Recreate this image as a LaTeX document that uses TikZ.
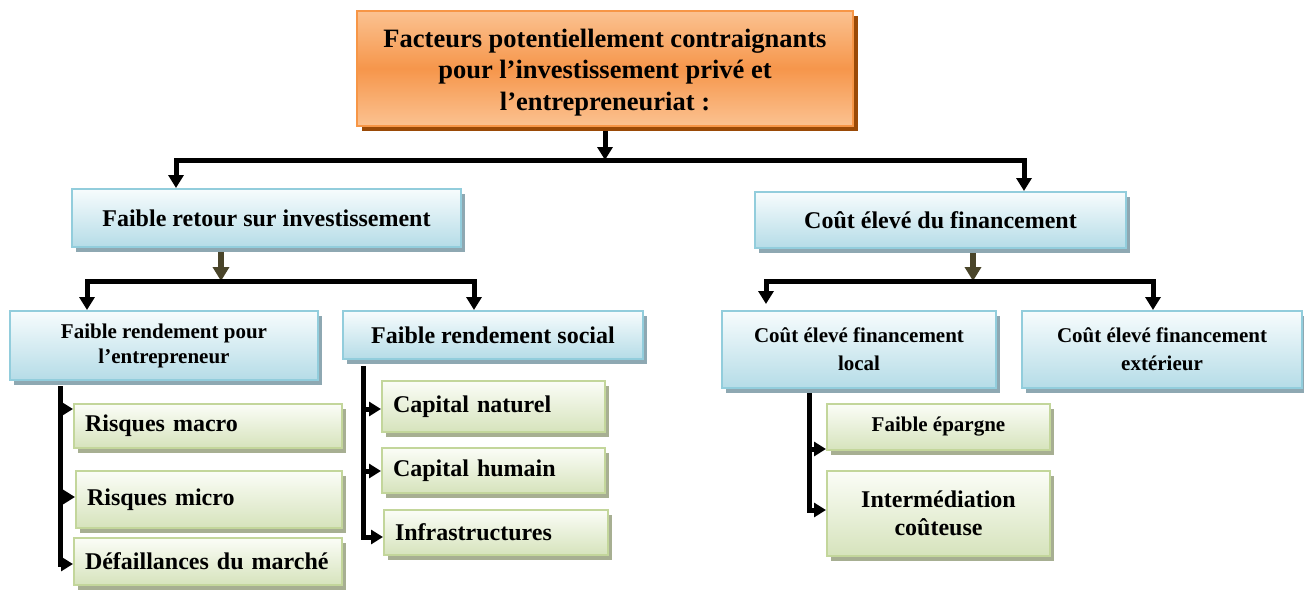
\documentclass[tikz,border=0pt]{standalone}
\usepackage{fontspec}
\setmainfont{Liberation Serif}
\usetikzlibrary{arrows.meta,shadows,backgrounds,calc}
\definecolor{orL}{HTML}{FBC291}
\definecolor{orD}{HTML}{F6964B}
\definecolor{orB}{HTML}{F79646}
\definecolor{orS}{HTML}{9A4A07}
\definecolor{blB}{HTML}{92CDDC}
\definecolor{blT}{HTML}{F7FCFD}
\definecolor{blD}{HTML}{B5DCE7}
\definecolor{blS}{HTML}{8EA8B2}
\definecolor{grB}{HTML}{C3D69B}
\definecolor{grT}{HTML}{FBFDF7}
\definecolor{grD}{HTML}{D6E3BC}
\definecolor{grS}{HTML}{A7AF92}
\definecolor{olv}{HTML}{4A452A}
\tikzset{
  basebox/.style={rectangle, inner sep=0pt, line width=2pt, font=\bfseries},
  topbox/.style={basebox, draw=orB, top color=orL, bottom color=orL, middle color=orD,
     drop shadow={shadow xshift=5pt, shadow yshift=-5pt, fill=orS, opacity=1}},
  titletxt/.style={inner sep=0pt, align=center, font=\bfseries\fontsize{26.5}{31.5}\selectfont},
  bluebox/.style={basebox, draw=blB, top color=blT, bottom color=blD,
     drop shadow={shadow xshift=4pt, shadow yshift=-5pt, fill=blS, opacity=1}, align=center},
  greenbox/.style={basebox, draw=grB, top color=grT, bottom color=grD,
     drop shadow={shadow xshift=4pt, shadow yshift=-5pt, fill=grS, opacity=1}},
  bigtxt/.style={font=\bfseries\fontsize{24}{28}\selectfont},
  smalltxt/.style={font=\bfseries\fontsize{21}{28}\selectfont},
  arr/.style={line width=5pt, -{Triangle[width=15pt,length=13pt]}},
  oarr/.style={line width=6.5pt, olv, -{Triangle[width=16pt,length=14pt]}},
  sarr/.style={line width=5pt, -{Triangle[width=14pt,length=12pt]}},
}
\begin{document}
\begin{tikzpicture}[x=1pt,y=-1pt]
\useasboundingbox (0,0) rectangle (1304,590);
% level 0
\node[topbox, minimum width=496pt, minimum height=115pt] (top) at (605,68.5) {};
\node[titletxt] (ttl) at ([yshift=-4pt]top.center)
  {Facteurs potentiellement contraignants\\pour l’investissement privé et\\l’entrepreneuriat :};
% level 1
\node[bluebox, bigtxt, minimum width=389pt, minimum height=58pt] (L1a) at (266.5,218) {Faible retour sur investissement};
\node[bluebox, bigtxt, minimum width=371pt, minimum height=56pt] (L1b) at (940.5,220) {Coût élevé du financement};
% level 2
\node[bluebox, font=\bfseries\fontsize{21}{25}\selectfont, minimum width=308pt, minimum height=69pt] (L2a) at (164,345.5) {Faible rendement pour\\l’entrepreneur};
\node[bluebox, bigtxt, minimum width=300pt, minimum height=48pt] (L2b) at (493,335) {Faible rendement social};
\node[bluebox, smalltxt, minimum width=274pt, minimum height=77pt] (L2c) at (859,349.5) {Coût élevé financement\\local};
\node[bluebox, smalltxt, minimum width=280pt, minimum height=77pt] (L2d) at (1162,349.5) {Coût élevé financement\\extérieur};
% leaves
\node[greenbox, bigtxt, minimum width=268pt, minimum height=44pt, text width=246pt, align=left] (RM) at (208,426) {Risques macro};
\node[greenbox, bigtxt, minimum width=266pt, minimum height=57pt, text width=244pt, align=left] (Rm) at (209,499.5) {Risques micro};
\node[greenbox, bigtxt, minimum width=268pt, minimum height=47pt, text width=246pt, align=left] (Def) at (208,561.5) {Défaillances du marché};
\node[greenbox, bigtxt, minimum width=223pt, minimum height=51pt, text width=201pt, align=left] (CN) at (493.5,406.5) {Capital naturel};
\node[greenbox, bigtxt, minimum width=223pt, minimum height=45pt, text width=201pt, align=left] (CH) at (493.5,470.5) {Capital humain};
\node[greenbox, bigtxt, minimum width=224pt, minimum height=45pt, text width=202pt, align=left] (Inf) at (496,532.5) {Infrastructures};
\node[greenbox, smalltxt, minimum width=223pt, minimum height=46pt, align=center] (FE) at (938.5,427) {Faible épargne};
\node[greenbox, bigtxt, minimum width=223pt, minimum height=85pt, align=center] (IC) at (938.5,513.5) {Intermédiation\\coûteuse};
% connectors
\begin{scope}[on background layer]
\coordinate (h0) at (605,160);
\coordinate (hL) at (176,160);
\coordinate (hR) at (1024,160);
\draw[arr] (top.south) -- (h0);
\draw[arr] (h0) -| (hL |- L1a.north);
\draw[arr] (h0) -| (hR |- L1b.north);
% under L1a
\coordinate (h1) at (221,281);
\coordinate (a1) at (87,281);
\coordinate (b1) at (474,281);
\draw[oarr] (L1a.south -| h1) -- (h1);
\draw[arr] (h1) -| (a1 |- L2a.north);
\draw[arr] (h1) -| (b1 |- L2b.north);
% under L1b
\coordinate (h2) at (973,281);
\coordinate (a2) at (766,281);
\coordinate (b2) at (1153,281);
\draw[oarr] (L1b.south -| h2) -- (h2);
\draw[arr] (h2) -| ([yshift=6pt]a2 |- L2c.north);
\draw[arr] (h2) -| (b2 |- L2d.north);
% side: entrepreneur
\coordinate (s1) at (60,386);
\coordinate (s1a) at (60,409);
\coordinate (s1b) at (60,497);
\coordinate (s1c) at (60,564);
\draw[sarr] (s1) |- (s1c -| Def.west);
\draw[sarr] (s1a) -- (s1a -| RM.west);
\draw[sarr] (s1b) -- (s1b -| Rm.west);
% side: social
\coordinate (s2) at (363,366);
\coordinate (s2a) at (363,409);
\coordinate (s2b) at (363,471);
\coordinate (s2c) at (363,537);
\draw[sarr] (s2) |- (s2c -| Inf.west);
\draw[sarr] (s2a) -- (s2a -| CN.west);
\draw[sarr] (s2b) -- (s2b -| CH.west);
% side: local
\coordinate (s3) at (809,392);
\coordinate (s3a) at (809,449);
\coordinate (s3b) at (809,510);
\draw[sarr] (s3) |- (s3b -| IC.west);
\draw[sarr] (s3a) -- (s3a -| FE.west);
\end{scope}
\end{tikzpicture}
\end{document}
